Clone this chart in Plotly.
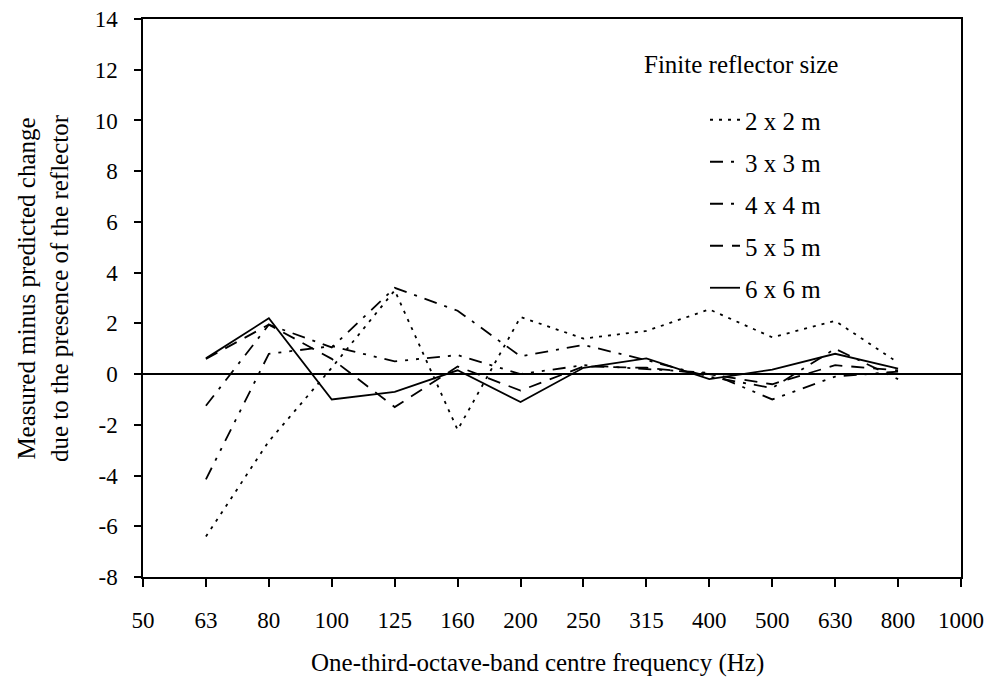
import plotly.graph_objects as go

freq_labels = ["50", "63", "80", "100", "125", "160", "200", "250", "315", "400", "500", "630", "800", "1000"]
data_freqs = ["63", "80", "100", "125", "160", "200", "250", "315", "400", "500", "630", "800"]
y_ticks = [-8, -6, -4, -2, 0, 2, 4, 6, 8, 10, 12, 14]
y_tick_text = ["-8", "-6", "-4", "-2", "0", "2", "4", "6", "8", "10", "12", "14"]

size_2x2 = [-6.4, -2.65, 0.25, 3.3, -2.2, 2.25, 1.4, 1.7, 2.55, 1.45, 2.1, 0.45]
size_3x3 = [-4.15, 0.8, 1.1, 0.5, 0.75, 0.0, 0.35, 0.2, 0.05, -1.0, -0.1, 0.1]
size_4x4 = [-1.25, 1.95, 1.05, 3.4, 2.5, 0.7, 1.15, 0.55, -0.1, -0.55, 1.0, -0.2]
size_5x5 = [0.6, 1.95, 0.6, -1.3, 0.3, -0.65, 0.3, 0.25, 0.0, -0.4, 0.35, 0.15]
size_6x6 = [0.62, 2.2, -1.0, -0.7, 0.15, -1.1, 0.25, 0.62, -0.2, 0.18, 0.8, 0.22]

series_names = ["2 x 2 m", "3 x 3 m", "4 x 4 m", "5 x 5 m", "6 x 6 m"]
series_values = [size_2x2, size_3x3, size_4x4, size_5x5, size_6x6]
dashes = ["3px,6px", "13px,8px,3px,8px,3px,8px", "13px,8px,3px,8px", "13px,9px", "solid"]

FONT = "Liberation Serif, Times New Roman, serif"
FW, FH = 988, 677

fig = go.Figure()
for i, (name, vals, d) in enumerate(zip(series_names, series_values, dashes)):
    fig.add_trace(go.Scatter(
        x=data_freqs, y=vals, mode="lines", name=name,
        line=dict(color="black", width=1.8, dash=d),
        legendgroup=f"g{i}",
    ))

L, R, T, B = 143, 961, 19, 577
W, H = R - L, B - T

def px(xp):
    return (xp - L) / W

def py(yp):
    return (B - yp) / H

fig.update_layout(
    width=FW, height=FH,
    margin=dict(l=L, r=FW - R, t=T, b=FH - B, autoexpand=False),
    paper_bgcolor="white", plot_bgcolor="white",
    font=dict(family=FONT, size=23, color="black"),
    showlegend=True,
    hovermode=False,
    legend=dict(
        x=px(705), y=py(97), xanchor="left", yanchor="top",
        font=dict(family=FONT, size=25, color="black"),
        bgcolor="rgba(0,0,0,0)", tracegroupgap=6.5,
    ),
    xaxis=dict(
        type="category", categoryorder="array", categoryarray=freq_labels,
        tickvals=freq_labels, ticktext=freq_labels,
        range=[0, 13], showgrid=False, zeroline=False, automargin=False,
        showline=True, linecolor="black", linewidth=1.5, mirror=True,
        ticks="outside", ticklen=8, tickcolor="black", tickwidth=1.5,
        ticklabelstandoff=14, ticklabeloverflow="allow",
        tickfont=dict(family=FONT, size=23, color="black"),
    ),
    yaxis=dict(
        range=[-8, 14], tickvals=y_ticks, ticktext=y_tick_text,
        showgrid=False, automargin=False,
        zeroline=True, zerolinecolor="black", zerolinewidth=2,
        showline=True, linecolor="black", linewidth=1.5, mirror=True,
        ticks="outside", ticklen=7, tickcolor="black", tickwidth=1.5,
        ticklabelstandoff=12, ticklabeloverflow="allow",
        tickfont=dict(family=FONT, size=23, color="black"),
    ),
    annotations=[
        dict(text="One-third-octave-band centre frequency (Hz)", xref="paper", yref="paper",
             x=px(537), y=py(663), xanchor="center", yanchor="middle",
             showarrow=False, font=dict(family=FONT, size=25, color="black")),
        dict(text="Measured minus predicted change<br>due to the presence of the reflector",
             xref="paper", yref="paper", textangle=-90,
             x=px(43), y=py(288), xanchor="center", yanchor="middle",
             showarrow=False, font=dict(family=FONT, size=25, color="black")),
        dict(text="Finite reflector size", xref="paper", yref="paper",
             x=px(642), y=py(64), xanchor="left", yanchor="middle",
             showarrow=False, font=dict(family=FONT, size=25, color="black")),
    ],
)

fig.write_html(
    "out.html",
    config={"displayModeBar": False},
    post_script="document.body.style.margin='0px';document.body.style.overflow='hidden';",
)
